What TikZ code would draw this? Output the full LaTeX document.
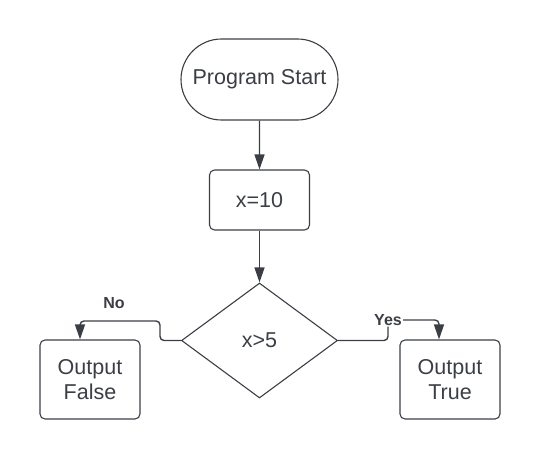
\documentclass[tikz,border=0pt]{standalone}
\usepackage{fontspec}
\setmainfont{Liberation Sans}
\usetikzlibrary{positioning, shapes.geometric, shapes.misc, arrows.meta}
\definecolor{ink}{HTML}{3B3F45}

\begin{document}
\begin{tikzpicture}[
  x=1pt, y=-1pt,
  font=\fontsize{21.5}{25.5}\selectfont,
  every node/.style={text=ink},
  term/.style={draw=ink, line width=1.1pt, rounded rectangle, minimum width=161pt, minimum height=81pt, inner sep=2pt},
  proc/.style={draw=ink, line width=1.1pt, rounded corners=5pt, minimum width=100pt, minimum height=60pt, align=center, inner sep=3pt},
  cond/.style={draw=ink, line width=1.1pt, diamond, minimum width=156pt, minimum height=115pt, inner sep=0pt},
  tag/.style={font=\bfseries\fontsize{16}{19}\selectfont, inner sep=1pt},
  arr/.style={-{Triangle[length=15pt, width=10pt]}, line width=1.4pt, ink, rounded corners=4pt}
]
  \useasboundingbox (0,0) rectangle (540,460);

  % main column
  \node[term] (start) at (259.5,79.5) {Program Start};
  \node[proc] (init) at (259.5,200) {x=10};
  \node[cond] (check) at (259.5,340.5) {x>5};

  % outputs
  \node[proc, minimum height=79pt] (falseout) at (90,379.5) {Output\\False};
  \node[proc, minimum height=79pt] (trueout) at (450,379.5) {Output\\True};

  % arrows
  \draw[arr] (start) -- (init);
  \draw[arr] (init) -- (check);

  \draw[arr] (check.west) -- (160,340.5) -- (160,321) -- (80,321) -- ([xshift=-10pt]falseout.north);
  \node[tag] (nolabel) at (114,303) {No};

  \draw[arr] (check.east) -- (388,340.5) -- (388,320) node[tag, fill=white] (yeslabel) {Yes} -- (439,320) -- ([xshift=-11pt]trueout.north);
\end{tikzpicture}
\end{document}
